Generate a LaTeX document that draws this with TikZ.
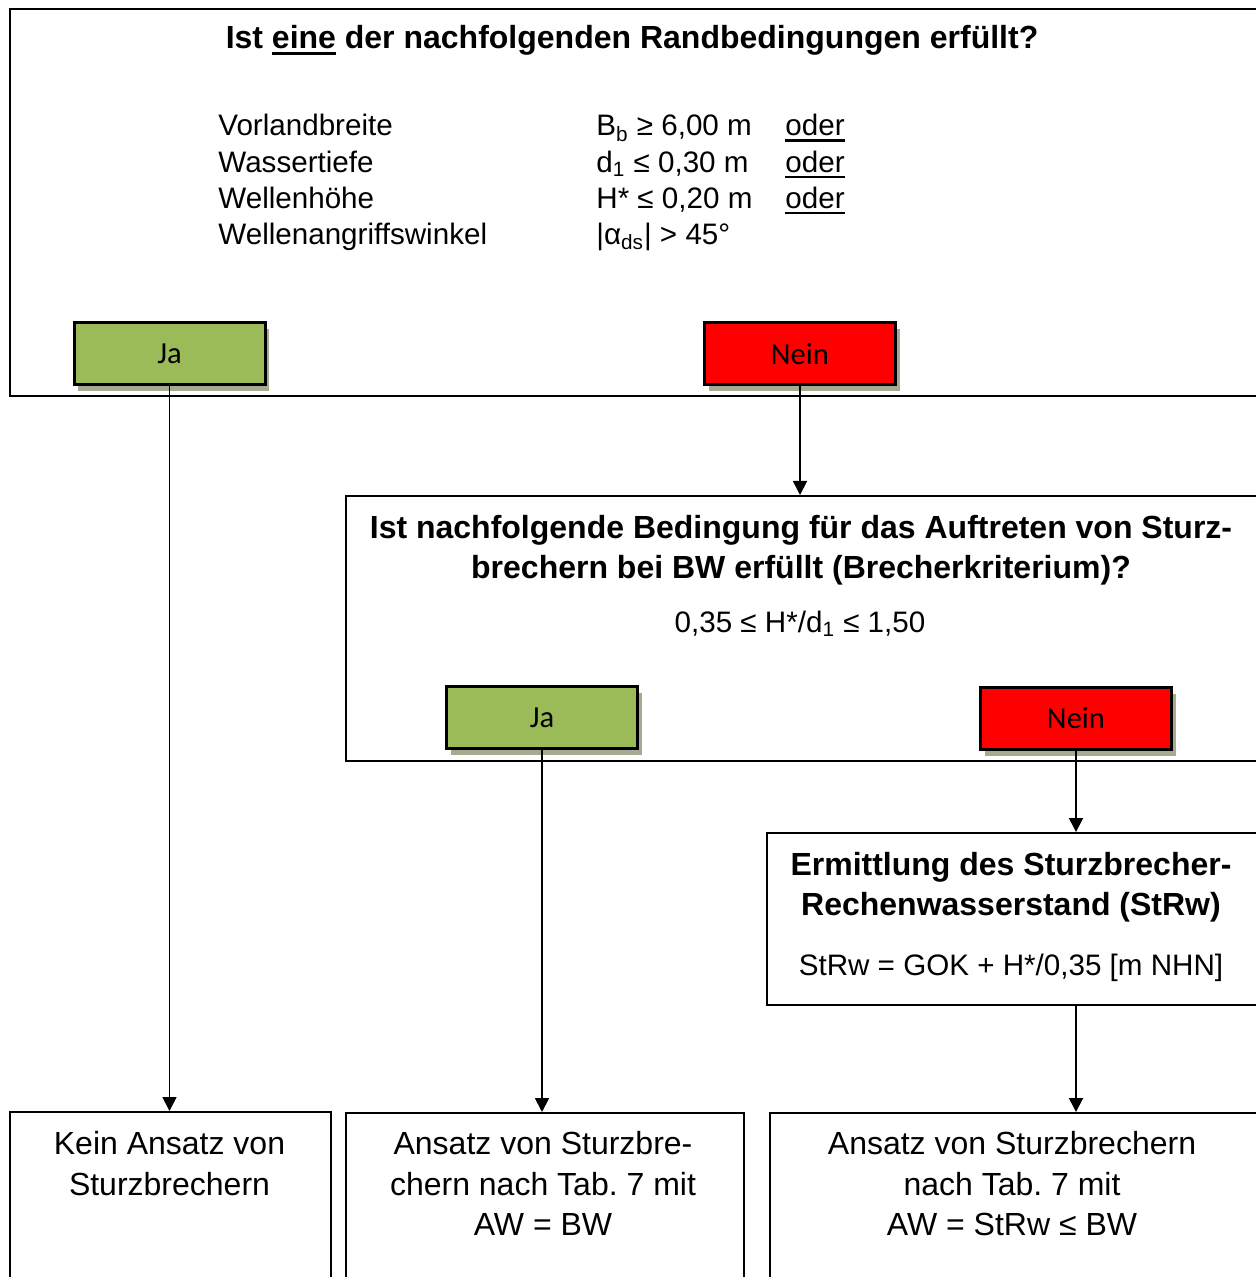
\documentclass[tikz,border=0pt]{standalone}
\usepackage{fontspec}
\setmainfont{Liberation Sans}
\newfontfamily\calibfont{Carlito}
\usetikzlibrary{arrows.meta, positioning, shadows}
\definecolor{jagreen}{RGB}{155,187,89}
\definecolor{neinred}{RGB}{255,0,0}
\definecolor{shadowolive}{RGB}{165,170,145}
\newcommand{\unterstr}[1]{\setbox0\hbox{#1}\leavevmode\rlap{\rule[-3pt]{\wd0}{1.3pt}}\box0{}}

\tikzset{
  rahmen/.style={draw, line width=1pt, inner sep=0pt, anchor=north west},
  knopf/.style={draw, line width=1.5pt, minimum width=95.5pt, minimum height=31pt, inner sep=0pt,
    font=\calibfont\fontsize{15.3}{18}\selectfont,
    drop shadow={shadow xshift=2pt, shadow yshift=-3pt, fill=shadowolive, opacity=1}},
  ja/.style={knopf, fill=jagreen},
  nein/.style={knopf, fill=neinred},
  pfeil/.style={-{Triangle[length=7pt,width=7pt]}, line width=0.9pt},
  fett/.style={font=\bfseries\fontsize{16}{20}\selectfont, align=center, inner sep=0pt},
  normal/.style={font=\fontsize{14.8}{18}\selectfont, inner sep=0pt},
  ergebnis/.style={font=\fontsize{16}{20.2}\selectfont, align=center, inner sep=0pt, anchor=north}
}

\begin{document}
\begin{tikzpicture}[x=0.5pt, y=-0.5pt]
    \useasboundingbox (0,0) rectangle (1255,1277);

    % Randbedingungen
    \node[rahmen, minimum width=633pt, minimum height=193.5pt] (frage1) at (9,8) {};
    \node[fett, anchor=base] (titel) at (632,49) {Ist \unterstr{eine} der nachfolgenden Randbedingungen erfüllt?};

    \node[normal, anchor=base west] (vorland) at (218,136) {Vorlandbreite};
    \node[normal, anchor=base west] (tiefe) at (218,172.5) {Wassertiefe};
    \node[normal, anchor=base west] (hoehe) at (218,208.5) {Wellenhöhe};
    \node[normal, anchor=base west] (winkel) at (218,244.5) {Wellenangriffswinkel};

    \node[normal, anchor=base west] (vorlandwert) at (596,136) {B\textsubscript{b} ≥ 6,00 m};
    \node[normal, anchor=base west] (tiefewert) at (596,172.5) {d\textsubscript{1} ≤ 0,30 m};
    \node[normal, anchor=base west] (hoehewert) at (596,208.5) {H* ≤ 0,20 m};
    \node[normal, anchor=base west] (winkelwert) at (596,244.5) {|α\textsubscript{ds}| > 45°};

    \node[normal, anchor=base west] (oder1) at (785,136) {\unterstr{oder}};
    \node[normal, anchor=base west] (oder2) at (785,172.5) {\unterstr{oder}};
    \node[normal, anchor=base west] (oder3) at (785,208.5) {\unterstr{oder}};

    \node[ja] (ja1) at (169.5,354) {Ja};
    \node[nein] (nein1) at (800,354) {Nein};

    % Brecherkriterium
    \node[rahmen, minimum width=465pt, minimum height=132.5pt] (frage2) at (345,495) {};
    \node[fett, anchor=north] (frage2text) at (801,515) {Ist nachfolgende Bedingung für das Auftreten von Sturz-\\brechern bei BW erfüllt (Brecherkriterium)?};
    \node[normal, anchor=base] (kriterium) at (800,632) {0,35 ≤ H*/d\textsubscript{1} ≤ 1,50};

    \node[ja] (ja2) at (542,717.5) {Ja};
    \node[nein] (nein2) at (1076,718.5) {Nein};

    % Sturzbrecher-Rechenwasserstand
    \node[rahmen, minimum width=254.5pt, minimum height=86pt] (strw) at (766,832) {};
    \node[fett, anchor=north] (strwtext) at (1011,852) {Ermittlung des Sturzbrecher-\\Rechenwasserstand (StRw)};
    \node[normal, anchor=base] (strwformel) at (1011,975) {StRw = GOK + H*/0,35 [m NHN]};

    % Ergebnisse
    \node[rahmen, minimum width=160.5pt, minimum height=100pt] (kein) at (9,1111) {};
    \node[ergebnis] (keintext) at (169.5,1131) {Kein Ansatz von\\Sturzbrechern};
    \node[rahmen, minimum width=199pt, minimum height=100pt] (ansatzbw) at (345,1112) {};
    \node[ergebnis] (ansatzbwtext) at (543,1131) {Ansatz von Sturzbre-\\chern nach Tab.\ 7 mit\\AW = BW};
    \node[rahmen, minimum width=253pt, minimum height=100pt] (ansatzstrw) at (769,1112) {};
    \node[ergebnis] (ansatzstrwtext) at (1012,1131) {Ansatz von Sturzbrechern\\nach Tab.\ 7 mit\\AW = StRw ≤ BW};

    % Pfeile
    \draw[pfeil] (ja1.south) -- (ja1.south |- kein.north);
    \draw[pfeil] (nein1.south) -- (nein1.south |- frage2.north);
    \draw[pfeil] (ja2.south) -- (ja2.south |- ansatzbw.north);
    \draw[pfeil] (nein2.south) -- (nein2.south |- strw.north);
    \draw[pfeil] (nein2.south |- strw.south) -- (nein2.south |- ansatzstrw.north);
\end{tikzpicture}
\end{document}
